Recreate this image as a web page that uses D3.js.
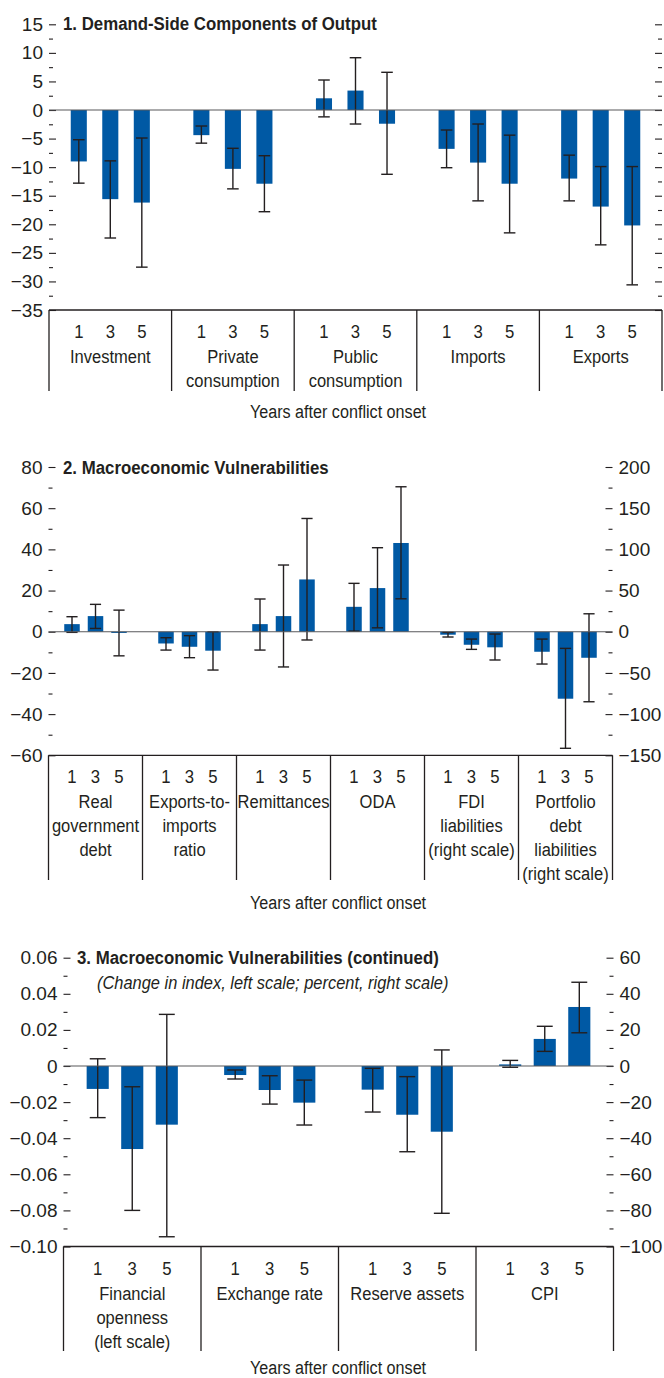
<!DOCTYPE html>
<html>
<head>
<meta charset="utf-8">
<script src="https://cdn.jsdelivr.net/npm/d3@7"></script>
<style>
  body { margin: 0; background: #fff; }
  svg text {
    font-family: 'Liberation Sans', Arial, sans-serif;
    fill: #231f20;
  }
</style>
</head>
<body>
<svg id="chart" width="664" height="1378"></svg>
<script>
// Horizon labels shared by every group
const years = ["1", "3", "5"];

// ---- Panel 1: demand-side components of output (percent) ----
const p1Categories = [["Investment"], ["Private", "consumption"], ["Public", "consumption"], ["Imports"], ["Exports"]];
const p1Values = [[-9.0, -15.6, -16.2], [-4.4, -10.3, -12.9], [2.05, 3.4, -2.4], [-6.8, -9.2, -12.9], [-12.0, -16.9, -20.2]];
const p1Low    = [[-12.8, -22.4, -27.5], [-5.8, -13.8, -17.8], [-1.2, -2.45, -11.25], [-10.1, -15.9, -21.5], [-15.9, -23.6, -30.6]];
const p1High   = [[-5.2, -8.9, -4.9], [-2.8, -6.7, -8.0], [5.25, 9.15, 6.6], [-3.5, -2.45, -4.4], [-7.9, -9.9, -9.9]];
const p1Ticks  = [15, 10, 5, 0, -5, -10, -15, -20, -25, -30, -35];

// ---- Panel 2: macroeconomic vulnerabilities ----
const p2Categories = [["Real", "government", "debt"], ["Exports-to-", "imports", "ratio"], ["Remittances"], ["ODA"],
                      ["FDI", "liabilities", "(right scale)"], ["Portfolio", "debt", "liabilities", "(right scale)"]];
const p2Side   = ["left", "left", "left", "left", "right", "right"];
const p2Values = [[3.7, 7.6, -0.5], [-5.7, -7.3, -9.2], [3.7, 7.6, 25.4], [12.1, 21.2, 43.1], [-3.6, -15.8, -18.9], [-24.3, -81.3, -31.6]];
const p2Low    = [[-0.3, 1.6, -11.7], [-8.9, -12.6, -18.6], [-8.9, -17.1, -4.0], [0.3, 1.9, 16.0], [-6.4, -21.4, -34.3], [-39.2, -141.5, -85.0]];
const p2High   = [[7.3, 13.3, 10.5], [-2.9, -1.9, 0.0], [15.9, 32.4, 55.0], [23.5, 40.8, 70.4], [-0.8, -8.9, -2.8], [-8.9, -20.2, 21.8]];
const p2LeftTicks  = [80, 60, 40, 20, 0, -20, -40, -60];
const p2RightTicks = [200, 150, 100, 50, 0, -50, -100, -150];

// ---- Panel 3: macroeconomic vulnerabilities (continued) ----
const p3Categories = [["Financial", "openness", "(left scale)"], ["Exchange rate"], ["Reserve assets"], ["CPI"]];
const p3Side   = ["left", "right", "right", "right"];
const p3Values = [[-0.0127, -0.046, -0.0325], [-5.0, -13.3, -20.3], [-13.1, -27.0, -36.4], [0.9, 15.0, 32.7]];
const p3Low    = [[-0.0286, -0.080, -0.0946], [-7.2, -21.1, -32.7], [-25.5, -47.5, -81.6], [-0.7, 8.1, 18.4]];
const p3High   = [[0.004, -0.0115, 0.0286], [-2.2, -5.4, -7.8], [-1.3, -5.9, 8.9], [3.1, 22.0, 46.4]];
const p3LeftTicks  = [0.06, 0.04, 0.02, 0, -0.02, -0.04, -0.06, -0.08, -0.10];
const p3RightTicks = [60, 40, 20, 0, -20, -40, -60, -80, -100];

const BAR = "#0059a4";
const INK = "#231f20";
const svg = d3.select("#chart");

// midpoints between consecutive major ticks become the short minor ticks
function minorOf(ticks) {
  return d3.pairs(ticks).map(([a, b]) => (a + b) / 2);
}

// text set in a narrowed face: horizontal squeeze about the anchor point
function narrowText(parent, x, y, str, o) {
  return parent.append("text")
    .attr("transform", `translate(${x},${y}) scale(${o.squeeze},1)`)
    .attr("text-anchor", o.anchor || "start")
    .style("font-size", o.size + "px")
    .style("font-weight", o.weight || "normal")
    .style("font-style", o.italic ? "italic" : "normal")
    .text(str);
}

function styleAxis(g) {
  g.select(".domain").remove();
  g.selectAll(".tick line").attr("stroke", INK).attr("stroke-width", 1.1);
  g.selectAll(".tick text").attr("fill", INK).style("font-size", "19px");
}

function drawPanel(cfg) {
  const g = svg.append("g");
  const n = cfg.categories.length;

  const xGroup = d3.scaleBand().domain(d3.range(n)).range([cfg.left, cfg.right]).padding(0);
  const xYear = d3.scaleBand().domain(years).range([0, xGroup.bandwidth()])
    .paddingInner(cfg.padInner).paddingOuter(cfg.padOuter);

  const yLeft = d3.scaleLinear().domain([d3.min(cfg.leftTicks), d3.max(cfg.leftTicks)]).range([cfg.bottom, cfg.top]);
  const yRight = cfg.rightTicks
    ? d3.scaleLinear().domain([d3.min(cfg.rightTicks), d3.max(cfg.rightTicks)]).range([cfg.bottom, cfg.top])
    : yLeft;
  const yOf = i => (cfg.side && cfg.side[i] === "right") ? yRight : yLeft;

  // left axis: ticks point into the plot, labels outside
  const leftAxis = d3.axisLeft(yLeft).tickValues(cfg.leftTicks).tickSizeInner(-7).tickSizeOuter(0)
    .tickPadding(6).tickFormat(cfg.leftFormat);
  g.append("g").attr("transform", `translate(${cfg.left},0)`).call(leftAxis).call(styleAxis);
  g.append("g").attr("transform", `translate(${cfg.left},0)`)
    .call(d3.axisLeft(yLeft).tickValues(minorOf(cfg.leftTicks)).tickSizeInner(-4).tickSizeOuter(0).tickFormat(""))
    .call(styleAxis);

  // right axis
  const rightTicks = cfg.rightTicks || cfg.leftTicks;
  const rightAxis = d3.axisRight(yRight).tickValues(rightTicks).tickSizeInner(-7).tickSizeOuter(0)
    .tickPadding(6).tickFormat(cfg.rightTicks ? cfg.rightFormat : "");
  g.append("g").attr("transform", `translate(${cfg.right},0)`).call(rightAxis).call(styleAxis);
  g.append("g").attr("transform", `translate(${cfg.right},0)`)
    .call(d3.axisRight(yRight).tickValues(minorOf(rightTicks)).tickSizeInner(-4).tickSizeOuter(0).tickFormat(""))
    .call(styleAxis);

  // bars
  const groups = g.selectAll(".grp").data(d3.range(n)).join("g")
    .attr("class", "grp").attr("transform", i => `translate(${xGroup(i)},0)`);

  groups.each(function (i) {
    const y = yOf(i);
    const rows = years.map((yr, j) => ({ yr, v: cfg.values[i][j] }));
    d3.select(this).selectAll("rect").data(rows).join("rect")
      .attr("x", d => xYear(d.yr))
      .attr("width", xYear.bandwidth())
      .attr("y", d => Math.min(y(d.v), y(0)))
      .attr("height", d => Math.max(Math.abs(y(d.v) - y(0)), 1.2))
      .attr("fill", BAR);
  });

  // zero line
  g.append("line")
    .attr("x1", cfg.left).attr("x2", cfg.right)
    .attr("y1", yLeft(0)).attr("y2", yLeft(0))
    .attr("stroke", "#58595b").attr("stroke-width", 1.2);

  // confidence bands
  const cap = xYear.bandwidth() * 0.72;
  groups.each(function (i) {
    const y = yOf(i);
    const rows = years.map((yr, j) => ({ yr, lo: cfg.low[i][j], hi: cfg.high[i][j] }));
    const eb = d3.select(this).selectAll(".eb").data(rows).join("g").attr("class", "eb")
      .attr("transform", d => `translate(${xYear(d.yr) + xYear.bandwidth() / 2},0)`)
      .attr("stroke", INK).attr("stroke-width", 1.4);
    eb.append("line").attr("y1", d => y(d.lo)).attr("y2", d => y(d.hi));
    eb.append("line").attr("x1", -cap / 2).attr("x2", cap / 2).attr("y1", d => y(d.lo)).attr("y2", d => y(d.lo));
    eb.append("line").attr("x1", -cap / 2).attr("x2", cap / 2).attr("y1", d => y(d.hi)).attr("y2", d => y(d.hi));
  });

  // category axis with boxed group labels
  g.append("line").attr("x1", cfg.left).attr("x2", cfg.right)
    .attr("y1", cfg.bottom).attr("y2", cfg.bottom).attr("stroke", INK).attr("stroke-width", 1.3);
  const bounds = d3.range(n).map(i => xGroup(i)).concat([cfg.right]);
  g.selectAll(".sep").data(bounds).join("line").attr("class", "sep")
    .attr("x1", d => d).attr("x2", d => d)
    .attr("y1", cfg.bottom).attr("y2", cfg.boxBottom)
    .attr("stroke", INK).attr("stroke-width", 1.3);

  groups.each(function (i) {
    const sel = d3.select(this);
    years.forEach(yr => {
      narrowText(sel, xYear(yr) + xYear.bandwidth() / 2, cfg.bottom + 28, yr,
        { size: 19, squeeze: 0.88, anchor: "middle" });
    });
    cfg.categories[i].forEach((line, k) => {
      narrowText(sel, xGroup.bandwidth() / 2, cfg.bottom + 53 + k * 24, line,
        { size: 19, squeeze: 0.87, anchor: "middle" });
    });
  });

  narrowText(g, 338, cfg.xTitleY, "Years after conflict onset", { size: 19, squeeze: 0.85, anchor: "middle" });

  // panel heading
  narrowText(g, cfg.titleX, cfg.titleY, cfg.title, { size: 19, squeeze: 0.885, weight: "bold" });
  if (cfg.subtitle) {
    narrowText(g, cfg.subtitleX, cfg.titleY + 25, cfg.subtitle, { size: 19, squeeze: 0.865, italic: true });
  }
}

const intFmt = d3.format("d");

drawPanel({
  title: "1. Demand-Side Components of Output", titleX: 63, titleY: 30,
  categories: p1Categories, values: p1Values, low: p1Low, high: p1High,
  left: 49, right: 662, top: 24.3, bottom: 310,
  padInner: 0.49, padOuter: 0.69,
  leftTicks: p1Ticks, leftFormat: intFmt,
  boxBottom: 391, xTitleY: 418
});

drawPanel({
  title: "2. Macroeconomic Vulnerabilities", titleX: 63, titleY: 474,
  categories: p2Categories, side: p2Side, values: p2Values, low: p2Low, high: p2High,
  left: 48.5, right: 612.5, top: 467, bottom: 755.3,
  padInner: 0.34, padOuter: 0.67,
  leftTicks: p2LeftTicks, leftFormat: intFmt,
  rightTicks: p2RightTicks, rightFormat: intFmt,
  boxBottom: 880, xTitleY: 909
});

drawPanel({
  title: "3. Macroeconomic Vulnerabilities (continued)", titleX: 77, titleY: 964,
  subtitle: "(Change in index, left scale; percent, right scale)", subtitleX: 97,
  categories: p3Categories, side: p3Side, values: p3Values, low: p3Low, high: p3High,
  left: 63.5, right: 613.5, top: 957.7, bottom: 1246.5,
  padInner: 0.36, padOuter: 0.67,
  leftTicks: p3LeftTicks, leftFormat: v => v === 0 ? "0" : d3.format(".2f")(v),
  rightTicks: p3RightTicks, rightFormat: intFmt,
  boxBottom: 1351, xTitleY: 1374
});
</script>
</body>
</html>
